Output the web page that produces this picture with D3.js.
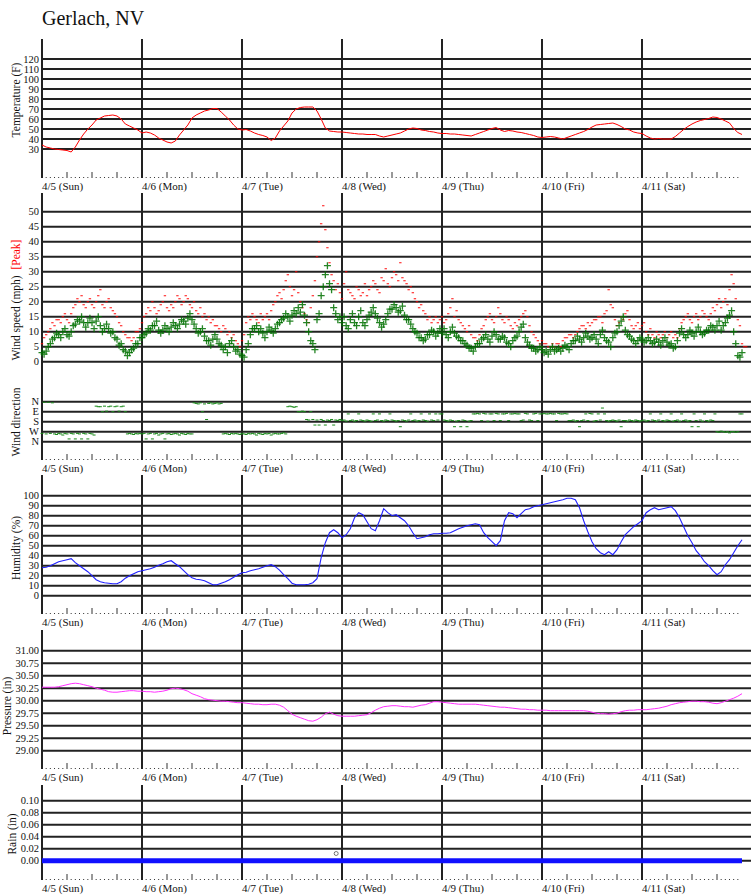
<!DOCTYPE html>
<html>
<head>
<meta charset="utf-8">
<script src="https://cdn.jsdelivr.net/npm/d3@7"></script>
<style>
  body { margin: 0; background: #fff; }
  svg text { font-family: "Liberation Serif", "DejaVu Serif", "Times New Roman", serif; fill: #111; }
</style>
</head>
<body>
<div id="chart"></div>
<script>
// ---- data (hourly from 4/5 00:00 unless noted) ----
let dayLabels = ["4/5 (Sun)", "4/6 (Mon)", "4/7 (Tue)", "4/8 (Wed)", "4/9 (Thu)", "4/10 (Fri)", "4/11 (Sat)"];

let tempF = [
  34,32,31,30,29.5,29,28.5,27,32,39,45,50,54,59,61,63,63.5,64,63,60,55,53,51,49,
  46,47,46,44,41,39,37,36,38,44,49,54,61,64,66,68,69,70.5,70.5,67,63,59,54,50,
  49,49.5,48,46,44.5,43.5,42,38.5,41,48,53,58,66,70,71.5,72,72,72,68,60,51,48,47.5,47,
  47,46.5,46,45.5,45,45,44.5,44.5,44.5,43,42,43,44,45,46,48,50,51,50.5,49,48.5,47.5,47,46,
  45.5,45.5,45,45,44.5,44,43.5,43,44.5,46,47.5,49,50.5,51.5,49,47.5,48.5,48,47,46.5,45.5,44.5,43.5,42,
  41.5,42,42.5,42,41,40,41.5,43,44.5,46,47.5,49.5,52,54,54.5,55,55.5,56,54.5,52.5,50,49,47,46,
  45.5,43,41,40,40.5,40,40,40,42.5,46,49.5,52.5,55,57,58.5,59.5,60.5,62,61.5,60,58,56,50.5,46.5,44.5
];

// wind speed, every 30 min
let windMph = [
  3,2.5,3.5,5,6,7.5,8,9.5,9,8,10,11,9,8.5,10,12,12.5,14,13.5,15,13,11.5,13,14.5,13,11,13.5,15,12,10,11,12.5,11,9.5,10,8,7.5,5.5,6,4,3.5,2,3,4,4.5,6,6,8,
  8,9,9.5,11,10.5,12,12,13.5,10.5,9.5,10.5,12,11,10,11.5,13,12,11,12.5,14,13.5,12.5,14.5,16,14,12.5,11,9.5,10,11,8.5,7,7,5.5,7.5,9,7.5,6,5.5,4,5,3,6,7,5,3.5,4,2.5,
  2,1.5,4,6,9,11,11,12,10,11,9.5,8,10,11.5,10.5,9.5,11,12.5,13,14,14.5,16,15,13.5,15.5,17,16,18,16.5,19,15.5,13,10,7,6,4,14,16,22,25,29,32,26,24,18,16,14,15,
  13,15,12,11,14,16,13,12,15,17,13,12,14,15.5,16.5,18,16,14.5,13,11.5,12.5,14,16,17.5,17.5,19,18,16.5,17,18.5,15.5,14,14,12.5,11,10,9.5,8,8,7,7.5,9,9,10.5,10,8.5,9.5,11,
  9.5,11,9,8,10,11.5,9.5,8.5,8,7,7,6,5.5,4.5,4.5,3.5,5,6,6,7.5,8,9,7.5,6.5,8.5,10,9,7.5,7.5,8.5,8,6.5,6,5,7,8,8.5,10,11.5,12.5,8,6.5,5.5,4.5,4.5,3.5,4,5,
  4,3,3.5,2.5,4,5,3.5,4,4.5,3.5,4.5,5.5,5,4,6,7,7,8.5,7.5,6.5,8,9.5,8.5,7.5,8,9,7.5,6,9,10.5,8,7,6.5,5,8,9.5,10,12,13.5,15,10.5,9,8.5,7.5,7,6,7,8,
  7.5,6.5,7,8,7,6,6.5,7.5,6.5,5.5,7,8,6.5,5.5,6,4.5,5,7,9.5,11,9,8,9,10.5,9.5,8.5,10,11.5,10,9,9.5,10.5,10.5,12,11.5,10.5,12,13.5,10.5,12,13,14.5,15.5,17,10,6,2,1.5,3
];

// peak gust, every 30 min
let peakMph = [
  6,8,9,10,11,13,12,14,14,13,15,16,14,13,16,18,19,21,20,22,19,18,20,21,19,18,20,22,24,19,18,20,21,18,17,16,15,13,12,10,9,8,8,7,8,10,10,11,
  13,15,16,18,17,20,18,16,17,19,20,22,18,17,19,18,20,22,21,19,20,22,21,19,18,20,17,16,18,15,16,14,15,13,14,12,12,11,10,12,11,9,10,8,9,7,
  6,5,7,9,13,15,14,16,15,14,13,16,14,15,16,14,17,19,20,22,23,21,24,27,29,25,22,24,30,23,20,18,16,14,13,18,22,27,35,40,46,52,44,38,33,29,27,24,26,23,
  21,26,30,24,23,22,21,25,24,22,23,26,22,24,25,27,26,24,23,28,27,31,26,25,28,30,29,27,33,28,27,26,24,25,23,21,20,18,19,17,16,14,15,13,14,15,13,14,15,13,
  14,16,18,21,15,17,14,13,12,11,10,12,9,8,8,7,9,11,12,14,15,16,14,13,15,18,16,14,13,15,14,12,11,13,12,14,15,16,17,15,12,10,9,8,7,6,7,6,
  6,5,5,6,5,6,6,5,7,8,8,9,9,8,9,10,11,12,12,11,13,12,13,14,14,15,15,13,16,17,24,19,18,14,12,13,15,14,16,17,14,12,11,12,13,11,12,13,
  10,9,11,9,8,10,9,8,9,10,8,9,10,8,9,8,11,13,14,15,16,14,13,15,16,14,15,17,16,15,14,16,18,17,19,21,18,20,21,19,24,29,26,21,14,12,6,5,5
];

// wind direction, degrees (0 = N), every 30 min
let windDir = [
  285,5,290,5,285,10,290,295,285,290,300,285,290,335,285,290,335,285,290,335,285,290,335,285,290,300,40,45,45,90,40,85,45,40,90,45,40,85,45,40,90,290,285,290,295,285,290,285,
  290,285,335,290,285,335,290,285,300,290,285,335,290,285,295,290,285,290,300,285,290,295,285,290,290,10,15,20,10,90,20,160,15,10,20,15,10,20,15,290,285,290,295,285,290,285,290,295,
  285,290,295,285,290,285,290,300,285,290,295,285,290,285,300,290,285,290,290,285,280,290,45,40,45,50,45,90,90,85,90,160,165,90,160,210,165,210,160,170,210,165,170,160,210,165,170,160,
  170,165,175,110,170,165,175,170,110,165,170,175,165,170,175,110,170,165,110,170,175,165,170,110,165,170,175,170,225,165,170,175,165,110,170,165,175,170,110,165,170,175,110,165,170,110,165,110,
  110,165,170,175,165,170,225,175,170,225,165,170,225,175,170,110,110,105,110,170,105,110,175,110,110,170,105,110,170,110,110,105,170,110,110,105,110,110,170,165,105,110,165,170,110,105,170,110,
  110,105,110,110,105,110,110,170,105,110,110,105,110,170,170,165,175,170,225,170,165,110,170,105,110,175,170,110,165,57,110,170,175,170,165,170,175,165,225,170,170,175,165,170,175,165,170,175,
  170,165,175,170,110,165,170,175,165,110,170,175,165,170,110,175,170,165,175,110,170,165,175,170,225,110,170,225,165,175,110,170,175,165,170,110,270,275,265,270,275,270,280,270,270,275,270,110,110
];

let humidityPct = [
  28,28.5,30,32,34,35,36,37,33,30,27,24,20,16,14,13,12.5,12,12,14,17.5,20,22,24,
  25,26,27,28.5,30.5,32,34,35,32,29,25,21,18,16.5,16,15,13,11,11,12.5,14,16,18.5,21,
  23,23.5,25,26,27,28.5,30,31,29,25.5,21,17,12.5,11,11,11,11.5,13,17,38,53,63,66,63,
  58,61,67,78,83,81,74,67,65,75,87,83,80,81,78,75,70,63,57,58,59,61,62,62,
  62.5,62.5,63,65,67,68.5,70,71,72,71,63,58,54,50,55,75,83,82,78,82,86,87,89,90,
  91,92,93,94,95,96,97.5,97.5,96,88,75,64,54,47,43,41,44,41,46,54,61,65,69,72,
  75,83,86,88,86,87,88,89,85,78,69,60,53,45,40,34,30,25,21,24,31,36,43,50,56
];

let pressureIn = [
  30.27,30.27,30.27,30.27,30.28,30.30,30.32,30.34,30.35,30.34,30.32,30.30,30.28,30.25,30.23,30.21,30.18,30.17,30.17,30.18,30.19,30.20,30.20,30.19,
  30.19,30.18,30.18,30.17,30.18,30.19,30.21,30.24,30.25,30.24,30.22,30.19,30.14,30.11,30.08,30.04,30.02,30.01,30.00,29.99,29.99,29.98,29.97,29.96,
  29.96,29.95,29.94,29.93,29.93,29.92,29.92,29.93,29.93,29.91,29.87,29.80,29.73,29.69,29.66,29.63,29.60,29.59,29.62,29.67,29.74,29.77,29.73,29.70,
  29.69,29.69,29.69,29.69,29.70,29.71,29.72,29.76,29.81,29.85,29.88,29.89,29.90,29.90,29.89,29.88,29.88,29.87,29.89,29.91,29.92,29.95,29.98,29.98,
  29.97,29.96,29.95,29.94,29.93,29.93,29.93,29.93,29.93,29.92,29.91,29.90,29.89,29.88,29.87,29.87,29.86,29.85,29.84,29.83,29.83,29.82,29.82,29.81,
  29.81,29.81,29.80,29.80,29.80,29.80,29.80,29.80,29.80,29.80,29.80,29.79,29.77,29.75,29.74,29.74,29.73,29.74,29.75,29.78,29.80,29.81,29.81,29.82,
  29.82,29.82,29.83,29.84,29.85,29.87,29.89,29.92,29.94,29.96,29.97,29.98,29.99,29.99,29.98,29.98,29.97,29.95,29.94,29.96,29.99,30.02,30.05,30.09,30.14
];

let rainIn = [
  0,0,0,0,0,0,0,0,0,0,0,0,0,0,0,0,0,0,0,0,0,0,0,0,
  0,0,0,0,0,0,0,0,0,0,0,0,0,0,0,0,0,0,0,0,0,0,0,0,
  0,0,0,0,0,0,0,0,0,0,0,0,0,0,0,0,0,0,0,0,0,0,0,0,
  0,0,0,0,0,0,0,0,0,0,0,0,0,0,0,0,0,0,0,0,0,0,0,0,
  0,0,0,0,0,0,0,0,0,0,0,0,0,0,0,0,0,0,0,0,0,0,0,0,
  0,0,0,0,0,0,0,0,0,0,0,0,0,0,0,0,0,0,0,0,0,0,0,0,
  0,0,0,0,0,0,0,0,0,0,0,0,0,0,0,0,0,0,0,0,0,0,0,0,0
];
// single odd rain reading (hours after 4/5 00:00, inches)
let rainOddHour = [70.6];
let rainOddIn = [0.012];

let tempTicks = [30,40,50,60,70,80,90,100,110,120];
let windTicks = [0,5,10,15,20,25,30,35,40,45,50];
let dirTicks = [0,90,180,270,360];
let dirNames = ["N","E","S","W","N"];
let humTicks = [0,10,20,30,40,50,60,70,80,90,100];
let presTicks = [29,29.25,29.5,29.75,30,30.25,30.5,30.75,31];
let rainTicks = [0,0.02,0.04,0.06,0.08,0.10];

// ---- layout ----
let svgWidth = 751, svgHeight = 895;
let left = 42, right = 751;
let serif = "'Liberation Serif', 'DejaVu Serif', 'Times New Roman', serif";

let svg = d3.select("#chart").append("svg")
  .attr("width", svgWidth)
  .attr("height", svgHeight)
  .attr("font-family", serif)
  .style("font-family", serif);

let t0 = new Date(2015, 3, 5);
let HOUR = 3600e3;
let at = h => new Date(+t0 + h * HOUR);
let x = d3.scaleTime().domain([t0, at(170.16)]).range([left, right]);

// panels (top of day lines, bottom of tick marks)
let panels = [
  { top: 39, bottom: 178 },
  { top: 193, bottom: 460 },
  { top: 475, bottom: 614 },
  { top: 630, bottom: 769 },
  { top: 785, bottom: 880 }
];

let yTemp = d3.scaleLinear().domain([1, 140]).range([178, 39]);
let yWind = d3.scaleLinear().domain([0, 50]).range([361.7, 211.7]);
let yDir = d3.scaleLinear().domain([0, 360]).range([401.7, 441.7]);
let yHum = d3.scaleLinear().domain([0, 100]).range([595.7, 495.7]);
let yPres = d3.scaleLinear().domain([29, 31]).range([750.7, 650.7]);
let yRain = d3.scaleLinear().domain([0, 0.1]).range([860.7, 800.7]);

// title
svg.append("text")
  .attr("x", 42).attr("y", 25)
  .style("font-size", "20px")
  .text("Gerlach, NV");

let gridG = svg.append("g");
let dataG = svg.append("g");

// day lines, hour ticks, date labels
panels.forEach(p => {
  gridG.selectAll(null)
    .data(d3.range(7))
    .enter().append("line")
    .attr("x1", d => x(at(d * 24))).attr("x2", d => x(at(d * 24)))
    .attr("y1", p.top).attr("y2", p.bottom)
    .attr("stroke", "#222").attr("stroke-width", 2);

  let hrs = d3.range(1, 169).filter(h => h % 24 != 0);
  gridG.selectAll(null)
    .data(hrs)
    .enter().append("line")
    .attr("x1", h => x(at(h))).attr("x2", h => x(at(h)))
    .attr("y1", h => h % 6 == 0 ? p.bottom - 6 : p.bottom - 1)
    .attr("y2", p.bottom)
    .attr("stroke", "#333").attr("stroke-width", 1);

  gridG.selectAll(null)
    .data(dayLabels)
    .enter().append("text")
    .attr("x", (d, i) => x(at(i * 24)))
    .attr("y", p.bottom + 12)
    .style("font-size", "11px")
    .text(d => d);
});

// horizontal grid + left labels
function grid(y, ticks, fmt) {
  gridG.selectAll(null)
    .data(ticks)
    .enter().append("line")
    .attr("x1", left).attr("x2", right)
    .attr("y1", d => y(d)).attr("y2", d => y(d))
    .attr("stroke", "#222").attr("stroke-width", 2);
  gridG.selectAll(null)
    .data(ticks)
    .enter().append("text")
    .attr("x", 39)
    .attr("y", d => y(d))
    .attr("dy", "0.35em")
    .attr("text-anchor", "end")
    .style("font-size", "10.5px")
    .text(fmt);
}
grid(yTemp, tempTicks, d => d);
grid(yWind, windTicks, d => d);
grid(yDir, dirTicks, (d, i) => dirNames[i]);
grid(yHum, humTicks, d => d);
grid(yPres, presTicks, d3.format(".2f"));
grid(yRain, rainTicks, d3.format(".2f"));

// axis titles
function yTitle(cx, cy, txt) {
  return svg.append("text")
    .attr("transform", `translate(${cx},${cy}) rotate(-90)`)
    .attr("text-anchor", "middle")
    .style("font-size", "11.5px")
    .text(txt);
}
yTitle(20, 100, "Temperature (F)");
let ws = svg.append("text")
  .attr("transform", "translate(20,300) rotate(-90)")
  .attr("text-anchor", "middle")
  .style("font-size", "11.5px");
ws.append("tspan").text("Wind speed (mph)\u00a0\u00a0");
ws.append("tspan").style("fill", "red").text("[Peak]");
yTitle(20, 422, "Wind direction");
yTitle(20, 548, "Humidity (%)");
yTitle(11, 706, "Pressure (in)");
yTitle(16, 834, "Rain (in)");

// ---- data marks ----
function lineOf(y, step) {
  return d3.line().x((d, i) => x(at(i * step))).y(d => y(d));
}

dataG.append("path").datum(tempF)
  .attr("d", lineOf(yTemp, 1))
  .attr("fill", "none").attr("stroke", "red").attr("stroke-width", 1);

dataG.selectAll(".pk")
  .data(peakMph)
  .enter().append("rect")
  .attr("class", "pk")
  .attr("x", (d, i) => x(at(i * 0.5)) - 1.2)
  .attr("y", d => yWind(d) - 0.6)
  .attr("width", 2.4).attr("height", 1.2)
  .attr("fill", "red").attr("opacity", 0.8);

dataG.selectAll(".ws")
  .data(windMph)
  .enter().append("path")
  .attr("class", "ws")
  .attr("transform", (d, i) => `translate(${x(at(i * 0.5))},${yWind(d)})`)
  .attr("d", "M-3.5,0H3.5M0,-3.5V3.5")
  .attr("stroke", "#007000").attr("stroke-width", 1.3).attr("opacity", 0.85);

dataG.selectAll(".wd")
  .data(windDir)
  .enter().append("rect")
  .attr("class", "wd")
  .attr("x", (d, i) => x(at(i * 0.5)) - 1.5)
  .attr("y", d => yDir(d) - 0.5)
  .attr("width", 3).attr("height", 1)
  .attr("fill", "#1a8a1a");

dataG.append("path").datum(humidityPct)
  .attr("d", lineOf(yHum, 1))
  .attr("fill", "none").attr("stroke", "#2020ff").attr("stroke-width", 1.1);

dataG.append("path").datum(pressureIn)
  .attr("d", lineOf(yPres, 1))
  .attr("fill", "none").attr("stroke", "#ff30ff").attr("stroke-width", 1);

dataG.append("path").datum(rainIn)
  .attr("d", lineOf(yRain, 1))
  .attr("fill", "none").attr("stroke", "#1010ff").attr("stroke-width", 5);

dataG.selectAll(".ro")
  .data(rainOddIn)
  .enter().append("circle")
  .attr("class", "ro")
  .attr("cx", (d, i) => x(at(rainOddHour[i])))
  .attr("cy", d => yRain(d))
  .attr("r", 2)
  .attr("fill", "none").attr("stroke", "#555").attr("stroke-width", 0.8);
</script>
</body>
</html>
